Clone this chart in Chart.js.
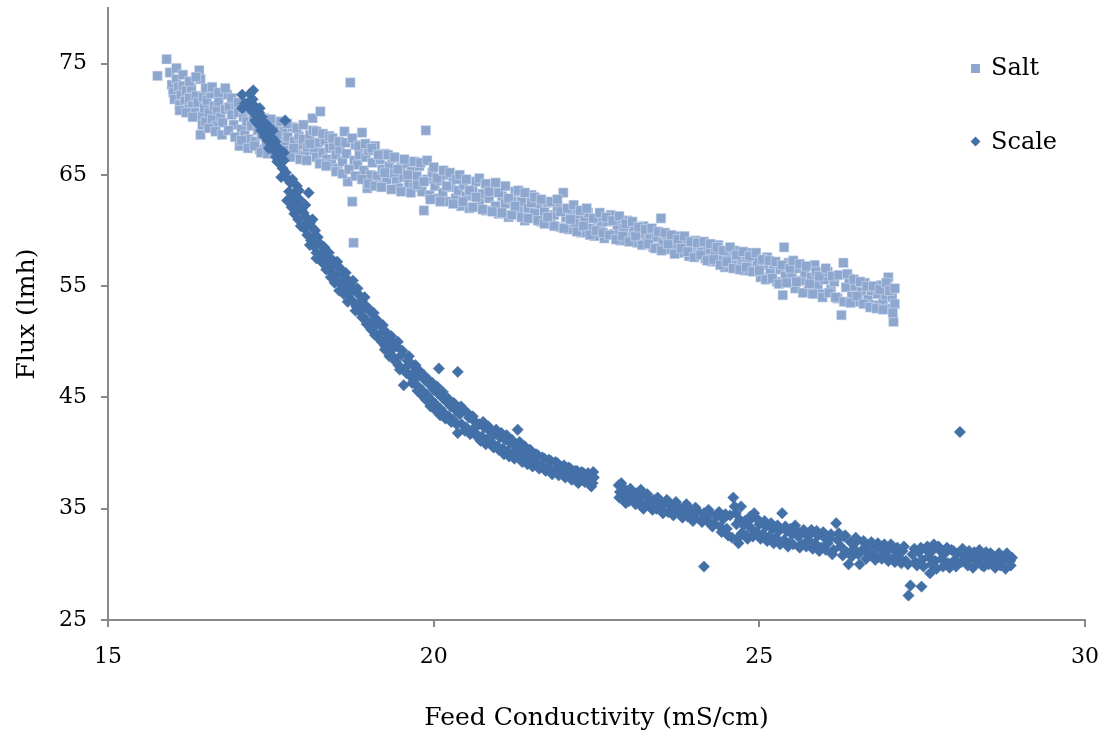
<!DOCTYPE html>
<html><head><meta charset="utf-8">
<script src="https://cdn.jsdelivr.net/npm/chart.js@4.4.0/dist/chart.umd.min.js"></script>
<style>
html,body{margin:0;padding:0;background:#fff;}
#wrap{position:relative;width:1105px;height:736px;}
canvas{display:block;}
.leg{position:absolute;font-family:"DejaVu Serif",serif;font-size:24px;color:#000;line-height:28px;white-space:nowrap;}
.mk{position:absolute;}
</style></head><body>
<div id="wrap">
<canvas id="c" width="1105" height="736"></canvas>
<div class="mk" style="left:971px;top:64px;width:9px;height:9px;background:#8EA7CF"></div>
<div class="leg" style="left:991px;top:53px">Salt</div>
<div class="mk" style="left:972px;top:138px;width:7px;height:7px;background:#4470A8;transform:rotate(45deg)"></div>
<div class="leg" style="left:991px;top:127px">Scale</div>
</div>
<script>
const seriesNames = ["Salt", "Scale"];
const xTicks = [15, 20, 25, 30];
const yTicks = [25, 35, 45, 55, 65, 75];
const xTitle = "Feed Conductivity (mS/cm)";
const yTitle = "Flux (lmh)";

const saltPoints = [
[15.76,73.9],[15.9,75.4],[15.95,74.2],[15.98,73.1],[16.0,72.4],[16.02,71.8],[16.05,73.6],[16.08,72.9],[16.1,71.3],[16.12,72.2],
[16.15,73.0],[16.18,71.6],[16.2,72.6],[16.22,70.9],[16.25,71.9],[16.28,72.8],[16.3,71.2],[16.33,70.6],[16.35,72.1],[16.38,71.5],
[16.4,74.4],[16.42,73.6],[16.42,68.6],[16.44,70.3],[16.45,69.5],[16.46,72.0],[16.48,71.0],[16.5,69.8],[16.52,71.7],[16.55,70.6],
[16.58,72.3],[16.6,70.0],[16.63,71.2],[16.66,69.4],[16.68,70.8],[16.7,71.6],[16.73,70.2],[16.76,69.7],[16.8,70.9],[16.83,72.2],
[16.86,71.1],[16.9,70.4],[16.93,69.5],[16.96,71.3],[17.0,70.6],[17.02,67.6],[17.05,69.1],[17.08,70.2],[17.1,68.6],[17.13,69.8],
[17.16,68.2],[17.2,69.4],[17.23,70.3],[17.26,68.0],[17.3,69.0],[17.33,67.3],[17.36,68.6],[17.4,69.6],[17.43,67.8],[17.46,68.4],
[17.5,69.3],[17.53,67.5],[17.56,68.2],[17.6,69.5],[17.63,67.1],[17.66,68.0],[17.7,68.9],[17.73,67.6],[17.76,68.4],[17.8,67.2],
[17.83,69.3],[17.86,68.0],[17.9,66.9],[17.93,68.5],[17.96,67.7],[18.0,68.2],[18.03,66.8],[18.06,67.5],[18.1,68.6],[18.14,70.1],
[18.17,67.2],[18.2,66.6],[18.23,67.9],[18.26,70.7],[18.3,67.0],[18.33,68.1],[18.36,66.4],[18.4,67.4],[18.43,66.0],[18.46,67.6],
[18.5,66.8],[18.53,65.6],[18.56,67.3],[18.6,66.2],[18.63,68.9],[18.66,66.9],[18.68,64.4],[18.72,73.3],[18.75,62.6],[18.77,58.9],
[18.78,66.3],[18.8,67.7],[18.83,65.9],[18.86,66.8],[18.9,68.8],[18.93,65.4],[18.96,66.6],[18.98,63.8],[19.0,67.2],[19.03,65.0],
[19.06,66.1],[19.1,67.6],[19.13,64.9],[19.15,64.1],[19.18,66.4],[19.21,65.5],[19.25,66.9],[19.28,64.6],[19.32,65.8],[19.36,66.5],
[19.4,65.1],[19.43,64.4],[19.46,63.8],[19.5,65.7],[19.54,64.8],[19.58,66.0],[19.62,64.2],[19.66,65.3],[19.7,63.9],[19.74,64.9],
[19.78,65.8],[19.82,63.5],[19.85,61.8],[19.88,69.0],[19.9,64.6],[19.94,63.2],[19.98,65.2],[20.02,64.0],[20.06,62.9],[20.1,64.5],
[20.14,63.4],[20.18,65.0],[20.22,62.6],[20.26,63.9],[20.3,64.8],[20.34,62.9],[20.38,63.6],[20.42,62.2],[20.46,64.1],[20.5,63.1],
[20.55,62.0],[20.6,63.6],[20.65,64.4],[20.7,62.6],[20.75,63.3],[20.8,61.8],[20.85,62.9],[20.9,63.8],[20.95,62.2],[21.0,61.5],
[21.05,63.1],[21.1,62.4],[21.15,61.2],[21.2,62.8],[21.25,63.5],[21.3,61.9],[21.35,62.6],[21.4,60.9],[21.45,62.0],[21.5,63.2],
[21.55,61.6],[21.6,62.4],[21.65,60.8],[21.7,61.7],[21.75,62.5],[21.8,60.6],[21.85,61.4],[21.9,62.1],[21.95,60.3],[21.99,63.4],
[22.03,61.2],[22.08,60.1],[22.12,61.8],[22.17,60.7],[22.22,61.5],[22.27,59.8],[22.32,60.9],[22.37,61.6],[22.42,60.2],[22.47,59.5],
[22.52,61.0],[22.57,60.4],[22.62,59.3],[22.67,60.8],[22.72,61.4],[22.77,59.7],[22.82,60.5],[22.87,59.1],[22.92,60.2],[22.97,60.9],
[23.02,59.4],[23.07,60.0],[23.12,58.9],[23.17,59.7],[23.22,60.4],[23.27,59.0],[23.32,59.6],[23.37,58.5],[23.42,59.4],[23.49,61.1],
[23.52,58.9],[23.57,59.6],[23.62,58.3],[23.67,59.1],[23.72,58.6],[23.77,59.5],[23.82,58.0],[23.87,58.8],[23.92,57.7],[23.97,58.5],
[24.02,59.1],[24.07,57.9],[24.12,58.6],[24.17,57.5],[24.22,58.3],[24.27,57.2],[24.32,58.0],[24.37,58.7],[24.42,57.4],[24.47,56.7],
[24.52,57.9],[24.57,57.1],[24.62,58.2],[24.67,56.9],[24.72,57.6],[24.77,56.4],[24.82,57.3],[24.87,58.0],[24.92,56.6],[24.97,57.2],
[25.02,55.8],[25.07,56.9],[25.12,57.6],[25.17,56.2],[25.22,57.0],[25.27,55.4],[25.32,56.5],[25.36,54.2],[25.38,58.5],[25.4,55.9],
[25.45,57.1],[25.5,56.0],[25.55,54.8],[25.6,56.6],[25.65,55.5],[25.7,56.2],[25.75,54.6],[25.8,55.8],[25.85,56.9],[25.9,55.1],
[25.95,54.3],[26.0,55.6],[26.05,56.3],[26.1,54.7],[26.15,55.4],[26.2,53.9],[26.26,52.4],[26.29,57.1],[26.33,54.9],[26.38,55.7],
[26.42,54.1],[26.47,55.0],[26.52,53.6],[26.57,54.5],[26.62,55.3],[26.67,53.8],[26.72,54.6],[26.77,53.3],[26.82,54.3],[26.87,55.1],
[26.9,53.5],[26.94,54.2],[26.98,55.8],[27.0,53.0],[27.04,54.0],[27.06,51.8],[27.08,53.4],
[16.05,74.6],[16.1,70.8],[16.15,74.0],[16.2,70.6],[16.25,73.4],[16.3,70.2],[16.35,73.8],[16.5,72.8],[16.55,69.2],[16.6,72.9],
[16.65,68.9],[16.7,72.4],[16.75,68.6],[16.8,72.8],[16.85,69.0],[16.9,71.9],[16.95,68.4],[17.0,71.5],[17.05,68.1],[17.1,70.9],
[17.15,67.4],[17.2,70.8],[17.25,67.6],[17.3,70.5],[17.35,67.0],[17.4,70.1],[17.45,66.9],[17.5,70.0],[17.55,67.0],[17.6,68.6],
[17.65,69.8],[17.7,67.2],[17.75,69.6],[17.8,66.6],[17.85,67.4],[17.9,69.2],[17.95,66.4],[18.0,69.5],[18.05,66.3],[18.1,67.8],
[18.15,69.0],[18.2,68.9],[18.25,66.0],[18.3,68.7],[18.35,65.8],[18.4,68.5],[18.45,68.3],[18.5,65.3],[18.55,68.0],[18.6,65.1],
[18.65,67.9],[18.7,65.5],[18.75,68.3],[18.8,64.9],[18.85,67.6],[18.9,64.6],[18.95,67.8],[19.0,64.2],[19.05,67.4],[19.1,64.0],
[19.15,66.8],[19.2,63.9],[19.25,65.2],[19.3,66.8],[19.35,63.7],[19.4,66.6],[19.45,65.5],[19.5,63.5],[19.55,66.4],[19.6,65.0],
[19.65,63.4],[19.7,66.2],[19.75,64.1],[19.8,66.1],[19.85,64.4],[19.9,66.3],[19.95,62.8],[20.0,65.7],[20.05,64.7],[20.1,62.6],
[20.15,65.4],[20.2,64.0],[20.25,65.2],[20.3,62.4],[20.35,64.6],[20.4,65.0],[20.45,62.6],[20.5,64.6],[20.55,63.6],[20.6,62.1],
[20.65,63.0],[20.7,64.7],[20.75,61.9],[20.8,64.2],[20.85,63.5],[20.9,61.7],[20.95,64.3],[21.0,63.4],[21.05,61.6],[21.1,64.0],
[21.15,62.9],[21.2,61.4],[21.25,62.2],[21.3,63.6],[21.35,61.2],[21.4,63.4],[21.45,61.1],[21.5,62.5],[21.55,63.0],[21.6,60.9],
[21.65,62.8],[21.7,60.6],[21.75,61.2],[21.8,62.6],[21.85,60.4],[21.9,62.8],[21.95,61.7],[22.0,60.2],[22.05,62.0],[22.1,61.0],
[22.15,62.3],[22.2,59.9],[22.25,61.8],[22.3,60.4],[22.35,62.0],[22.4,59.6],[22.45,61.1],[22.5,60.0],[22.55,61.6],[22.6,59.8],
[22.65,61.2],[22.7,59.6],[22.75,60.9],[22.8,59.2],[22.85,61.3],[22.9,59.5],[22.95,60.6],[23.0,59.0],[23.05,60.8],[23.1,59.5],
[23.15,60.3],[23.2,58.7],[23.25,60.1],[23.3,58.8],[23.35,60.2],[23.4,58.4],[23.45,59.9],[23.5,58.2],[23.55,59.8],[23.6,58.8],
[23.65,59.6],[23.7,57.9],[23.75,59.2],[23.8,58.4],[23.85,59.5],[23.9,58.1],[23.95,59.0],[24.0,57.6],[24.05,58.9],[24.1,57.8],
[24.15,59.0],[24.2,57.3],[24.25,58.8],[24.3,57.4],[24.35,58.5],[24.4,56.9],[24.45,58.2],[24.5,57.2],[24.55,58.5],[24.6,56.6],
[24.65,57.8],[24.7,56.5],[24.75,58.1],[24.8,56.7],[24.85,57.7],[24.9,56.3],[24.95,58.0],[25.0,56.4],[25.05,57.4],[25.1,55.6],
[25.15,57.3],[25.2,55.7],[25.25,57.2],[25.3,55.2],[25.35,56.9],[25.42,55.3],[25.47,56.6],[25.52,57.3],[25.57,55.4],[25.62,57.0],
[25.67,54.4],[25.72,56.8],[25.77,55.2],[25.82,54.3],[25.87,56.3],[25.92,55.9],[25.97,54.0],[26.02,56.6],[26.07,54.4],[26.12,55.9],
[26.17,54.0],[26.22,56.0],[26.3,53.6],[26.35,56.1],[26.4,53.5],[26.45,55.6],[26.5,54.1],[26.55,55.4],[26.6,53.4],[26.65,55.0],
[26.7,53.1],[26.75,55.0],[26.8,53.0],[26.85,54.7],[26.9,52.9],[26.95,55.3],[27.0,54.6],[27.05,52.6],[27.08,54.8]
];

const scalePoints = [
[17.06,72.2],[17.23,72.6],[17.22,71.8],[17.06,71.0],[17.15,71.5],[17.2,70.8],[17.25,71.2],[17.28,70.3],[17.3,69.6],[17.32,70.6],
[17.35,69.0],[17.38,69.8],[17.4,68.5],[17.42,69.2],[17.45,68.1],[17.48,68.8],[17.5,67.6],[17.52,68.3],[17.55,67.2],[17.58,66.6],
[17.6,67.5],[17.62,66.1],[17.65,66.8],[17.68,65.6],[17.72,69.9],[17.7,66.3],[17.73,65.2],[17.75,62.7],[17.78,63.5],[17.8,64.3],
[17.82,62.1],[17.84,63.0],[17.86,61.5],[17.88,62.4],[17.9,64.0],[17.92,61.0],[17.94,62.8],[17.96,60.4],[18.0,61.6],[18.02,60.2],
[18.04,61.2],[18.06,59.6],[18.08,63.4],[18.1,60.7],[18.12,59.1],[18.14,61.0],[18.16,58.6],[18.18,60.0],[18.2,58.0],[18.22,59.4],
[18.25,57.6],[18.28,58.6],[18.3,57.1],[18.33,58.1],[18.36,56.8],[18.4,57.5],[18.43,56.3],[18.46,57.3],[18.5,55.9],[18.53,56.8],
[18.56,55.3],[18.6,56.2],[18.63,54.9],[18.66,55.7],[18.7,54.3],[18.72,55.3],[18.75,53.7],[18.78,54.8],[18.81,53.2],[18.84,54.3],
[18.87,52.7],[18.9,53.6],[18.93,52.2],[18.96,53.2],[19.0,51.7],[19.03,52.7],[19.06,51.2],[19.1,52.1],[19.13,50.6],[19.16,51.6],
[19.2,50.0],[19.23,51.0],[19.26,49.6],[19.3,50.4],[19.33,49.1],[19.36,50.0],[19.4,48.5],[19.43,49.6],[19.46,47.9],[19.5,48.8],
[19.54,46.1],[19.56,47.6],[19.6,48.3],[19.63,47.0],[19.66,48.0],[19.7,46.6],[19.73,47.4],[19.76,46.0],[19.8,47.0],[19.83,45.6],
[19.86,46.6],[19.9,45.2],[19.93,46.2],[19.96,44.8],[20.0,45.7],[20.03,44.4],[20.06,45.4],[20.08,47.6],[20.1,44.0],[20.13,45.0],
[20.16,43.6],[20.2,44.6],[20.23,43.3],[20.26,44.2],[20.3,43.0],[20.33,43.9],[20.37,47.3],[20.37,41.8],[20.4,43.5],[20.43,42.6],
[20.46,43.9],[20.5,42.3],[20.54,43.2],[20.58,42.0],[20.62,42.9],[20.66,41.7],[20.68,41.4],[20.7,42.6],[20.74,41.5],[20.78,42.3],
[20.82,41.2],[20.86,42.0],[20.9,40.9],[20.94,41.7],[20.98,40.6],[21.02,41.4],[21.06,40.4],[21.1,41.2],[21.14,40.2],[21.18,40.9],
[21.22,40.0],[21.26,40.7],[21.29,42.1],[21.3,39.8],[21.34,40.5],[21.38,39.6],[21.42,40.2],[21.46,39.4],[21.5,40.0],[21.55,39.2],
[21.6,39.8],[21.65,38.9],[21.7,39.5],[21.75,38.7],[21.8,39.3],[21.85,38.5],[21.9,39.1],[21.95,38.3],[22.0,38.9],[22.05,38.1],
[22.1,38.6],[22.15,37.9],[22.2,38.4],[22.25,37.7],[22.3,38.2],[22.35,37.5],[22.4,38.0],[22.44,37.3],[22.46,37.8],
[22.84,37.1],[22.86,36.5],[22.9,35.9],[22.93,36.8],[22.97,36.2],[23.0,35.7],[23.04,36.5],[23.08,35.9],[23.12,36.4],[23.16,35.5],
[23.2,36.1],[23.25,35.3],[23.3,35.9],[23.34,35.1],[23.38,35.8],[23.42,35.0],[23.46,35.6],[23.5,34.9],[23.55,35.5],[23.6,34.7],
[23.65,35.3],[23.7,34.6],[23.75,35.2],[23.8,34.5],[23.85,35.0],[23.9,34.3],[23.95,34.9],[24.0,34.2],[24.05,34.8],[24.1,34.0],
[24.15,29.8],[24.15,34.6],[24.2,33.9],[24.25,34.5],[24.3,33.7],[24.35,34.3],[24.4,33.4],[24.45,34.1],[24.5,33.2],[24.55,34.4],
[24.58,32.4],[24.6,36.0],[24.62,35.2],[24.65,33.6],[24.68,31.9],[24.7,34.0],[24.73,32.8],[24.76,33.5],[24.8,32.6],[24.84,33.9],
[24.88,33.2],[24.92,34.6],[24.96,32.9],[25.0,33.6],[25.05,32.7],[25.1,33.4],[25.15,32.5],[25.2,33.2],[25.25,32.4],[25.3,33.0],
[25.35,34.6],[25.38,32.2],[25.42,33.0],[25.46,31.9],[25.5,32.7],[25.55,33.5],[25.6,32.5],[25.65,31.8],[25.7,32.8],[25.75,32.2],
[25.8,33.1],[25.85,31.9],[25.9,32.6],[25.95,31.5],[26.0,32.4],[26.05,31.9],[26.1,32.7],[26.14,31.3],[26.18,33.7],[26.2,32.2],
[26.25,31.6],[26.3,32.5],[26.34,31.1],[26.37,30.0],[26.4,32.0],[26.45,31.4],[26.5,32.1],[26.54,30.0],[26.58,31.3],[26.62,31.9],
[26.66,31.1],[26.7,31.7],[26.75,30.9],[26.8,31.5],[26.85,30.7],[26.9,31.3],[26.95,30.8],[27.0,31.4],[27.05,30.5],[27.1,31.1],
[27.15,30.6],[27.2,31.2],[27.25,30.3],[27.29,27.2],[27.32,28.1],[27.35,30.9],[27.4,30.2],[27.45,31.1],[27.49,28.0],[27.5,30.4],
[27.55,31.4],[27.6,30.7],[27.62,29.2],[27.65,31.2],[27.7,30.3],[27.75,31.6],[27.8,30.5],[27.85,31.0],[27.9,30.1],[27.95,31.3],
[28.0,30.4],[28.05,31.0],[28.08,41.9],[28.1,30.2],[28.15,30.8],[28.2,29.9],[28.25,30.6],[28.3,31.1],[28.35,30.3],[28.4,30.8],
[28.45,29.8],[28.5,30.5],[28.55,31.0],[28.6,30.2],[28.65,30.7],[28.7,29.9],[28.75,30.4],[28.8,31.0],[28.85,30.3],[28.88,30.6],
[17.1,71.4],[17.18,72.3],[17.26,69.9],[17.33,71.0],[17.36,70.2],[17.44,69.5],[17.47,67.4],[17.53,69.0],[17.57,68.0],[17.6,66.2],
[17.63,67.3],[17.66,64.8],[17.7,67.0],[17.76,64.6],[17.8,62.9],[17.83,64.6],[17.85,63.3],[17.9,61.8],[17.93,63.6],[17.97,61.9],
[18.0,60.3],[18.03,62.3],[18.07,60.8],[18.1,58.7],[18.13,60.3],[18.17,59.5],[18.2,57.5],[18.24,58.9],[18.28,57.2],[18.32,58.5],
[18.35,56.5],[18.39,58.0],[18.42,55.8],[18.45,56.9],[18.48,55.3],[18.52,57.2],[18.55,54.6],[18.58,56.5],[18.62,54.3],[18.65,56.2],
[18.68,53.6],[18.72,54.7],[18.76,55.5],[18.8,52.8],[18.83,54.8],[18.86,53.5],[18.9,52.2],[18.94,54.0],[18.97,51.6],[19.0,53.0],
[19.04,51.1],[19.08,52.6],[19.1,50.6],[19.14,51.9],[19.18,50.2],[19.22,51.5],[19.25,49.3],[19.28,50.8],[19.32,48.7],[19.35,50.5],
[19.38,49.5],[19.42,48.2],[19.45,50.0],[19.48,47.5],[19.52,49.2],[19.58,47.2],[19.62,48.7],[19.67,46.3],[19.72,47.9],[19.75,45.6],
[19.78,47.4],[19.82,45.2],[19.85,47.0],[19.88,44.8],[19.92,46.6],[19.95,44.2],[19.98,46.3],[20.02,43.9],[20.05,46.0],[20.1,43.4],
[20.14,45.5],[20.18,43.1],[20.22,44.9],[20.27,42.8],[20.31,44.5],[20.35,42.6],[20.42,44.2],[20.48,42.0],[20.52,43.6],[20.56,41.7],
[20.6,43.3],[20.65,42.4],[20.72,41.1],[20.76,42.8],[20.8,40.8],[20.84,42.4],[20.88,41.5],[20.92,40.5],[20.96,42.1],[21.0,40.3],
[21.04,41.8],[21.08,39.9],[21.12,41.6],[21.16,39.7],[21.2,41.2],[21.24,39.5],[21.28,40.2],[21.32,41.0],[21.36,39.2],[21.4,40.6],
[21.44,39.0],[21.48,40.3],[21.52,38.8],[21.57,39.9],[21.62,38.6],[21.67,39.6],[21.72,38.4],[21.77,39.4],[21.82,38.1],[21.87,39.2],
[21.92,38.0],[21.97,38.7],[22.02,37.8],[22.07,38.7],[22.12,37.6],[22.17,38.4],[22.22,37.3],[22.27,38.3],[22.32,37.4],[22.37,38.2],
[22.42,37.0],[22.45,38.3],
[22.85,36.0],[22.88,37.3],[22.95,35.5],[23.02,36.8],[23.1,35.4],[23.18,36.7],[23.22,35.0],[23.28,36.3],[23.36,34.9],[23.44,36.0],
[23.52,34.6],[23.58,35.8],[23.68,34.4],[23.72,35.6],[23.82,34.2],[23.88,35.4],[23.98,33.9],[24.02,35.1],[24.12,33.8],[24.22,34.9],
[24.28,33.4],[24.38,34.7],[24.42,32.9],[24.48,34.5],[24.52,32.6],[24.64,34.6],[24.66,32.3],[24.72,35.2],[24.78,33.9],[24.82,32.3],
[24.86,34.3],[24.9,32.5],[24.98,34.0],[25.02,32.3],[25.08,33.9],[25.12,32.1],[25.18,33.7],[25.22,31.9],[25.28,33.5],[25.32,31.8],
[25.4,33.4],[25.44,31.6],[25.48,33.2],[25.52,31.8],[25.58,33.0],[25.62,31.5],[25.68,33.1],[25.72,31.6],[25.78,32.7],[25.82,31.4],
[25.88,33.0],[25.92,31.2],[25.98,32.9],[26.02,31.3],[26.08,32.3],[26.12,30.9],[26.22,32.8],[26.28,30.8],[26.32,32.6],[26.42,30.7],
[26.48,32.4],[26.52,30.9],[26.6,32.1],[26.64,30.5],[26.72,32.0],[26.78,30.4],[26.82,31.9],[26.88,30.5],[26.92,31.8],[26.98,30.3],
[27.02,31.8],[27.08,30.2],[27.12,31.5],[27.18,30.1],[27.22,31.6],[27.28,30.0],[27.38,31.4],[27.42,29.9],[27.48,31.5],[27.52,29.8],
[27.58,31.6],[27.64,30.0],[27.68,31.8],[27.72,29.6],[27.78,31.2],[27.82,29.8],[27.88,31.5],[27.92,29.7],[27.98,31.2],[28.02,29.8],
[28.12,31.4],[28.18,30.4],[28.22,31.2],[28.28,29.7],[28.32,30.6],[28.38,31.3],[28.42,29.9],[28.48,31.1],[28.52,30.0],[28.58,30.8],
[28.62,29.7],[28.68,31.0],[28.72,30.5],[28.78,29.6],[28.82,30.8],[28.86,29.9]
];

const FONT = '"DejaVu Serif", serif';
const axisColor = '#898989';

function zeroPad(s) { s.paddingTop = 0; s.paddingBottom = 0; s.paddingLeft = 0; s.paddingRight = 0; }

new Chart(document.getElementById('c'), {
  type: 'scatter',
  data: {
    datasets: [
      {
        label: seriesNames[0],
        data: saltPoints.map(p => ({x: p[0], y: p[1]})),
        pointStyle: 'rect',
        pointRadius: 6.8,
        pointHoverRadius: 6.8,
        backgroundColor: '#8EA7CF',
        borderColor: 'rgba(214,224,240,0.9)',
        borderWidth: 0.6,
        order: 2
      },
      {
        label: seriesNames[1],
        data: scalePoints.map(p => ({x: p[0], y: p[1]})),
        pointStyle: 'rectRot',
        pointRadius: 5.7,
        pointHoverRadius: 5.7,
        backgroundColor: '#4470A8',
        borderColor: '#4470A8',
        borderWidth: 0.5,
        order: 1
      }
    ]
  },
  options: {
    responsive: false,
    animation: false,
    devicePixelRatio: 1,
    layout: { padding: { left: 0, right: 20, top: 8, bottom: 0 } },
    plugins: { legend: { display: false }, tooltip: { enabled: false } },
    scales: {
      x: {
        type: 'linear',
        min: 15, max: 30,
        afterBuildTicks: s => { s.ticks = xTicks.map(v => ({value: v})); },
        afterFit: s => { s.height = 116; zeroPad(s); },
        grid: { drawOnChartArea: false, drawTicks: true, tickLength: 7, color: axisColor, lineWidth: 2 },
        border: { display: true, color: axisColor, width: 2 },
        ticks: { font: { family: FONT, size: 22 }, color: '#000', padding: 17, maxRotation: 0 },
        title: { display: true, text: xTitle, font: { family: FONT, size: 25 }, color: '#000', padding: { top: 3, bottom: 3 } }
      },
      y: {
        type: 'linear',
        min: 25, max: 80,
        afterBuildTicks: s => { s.ticks = yTicks.map(v => ({value: v})); },
        afterFit: s => { s.width = 108; zeroPad(s); },
        grid: { drawOnChartArea: false, drawTicks: true, tickLength: 7, color: axisColor, lineWidth: 2 },
        border: { display: true, color: axisColor, width: 2 },
        ticks: { font: { family: FONT, size: 22 }, color: '#000', padding: 14 },
        title: { display: true, text: yTitle, font: { family: FONT, size: 25 }, color: '#000', padding: { top: 12, bottom: 0 } }
      }
    }
  }
});
</script>
</body></html>
